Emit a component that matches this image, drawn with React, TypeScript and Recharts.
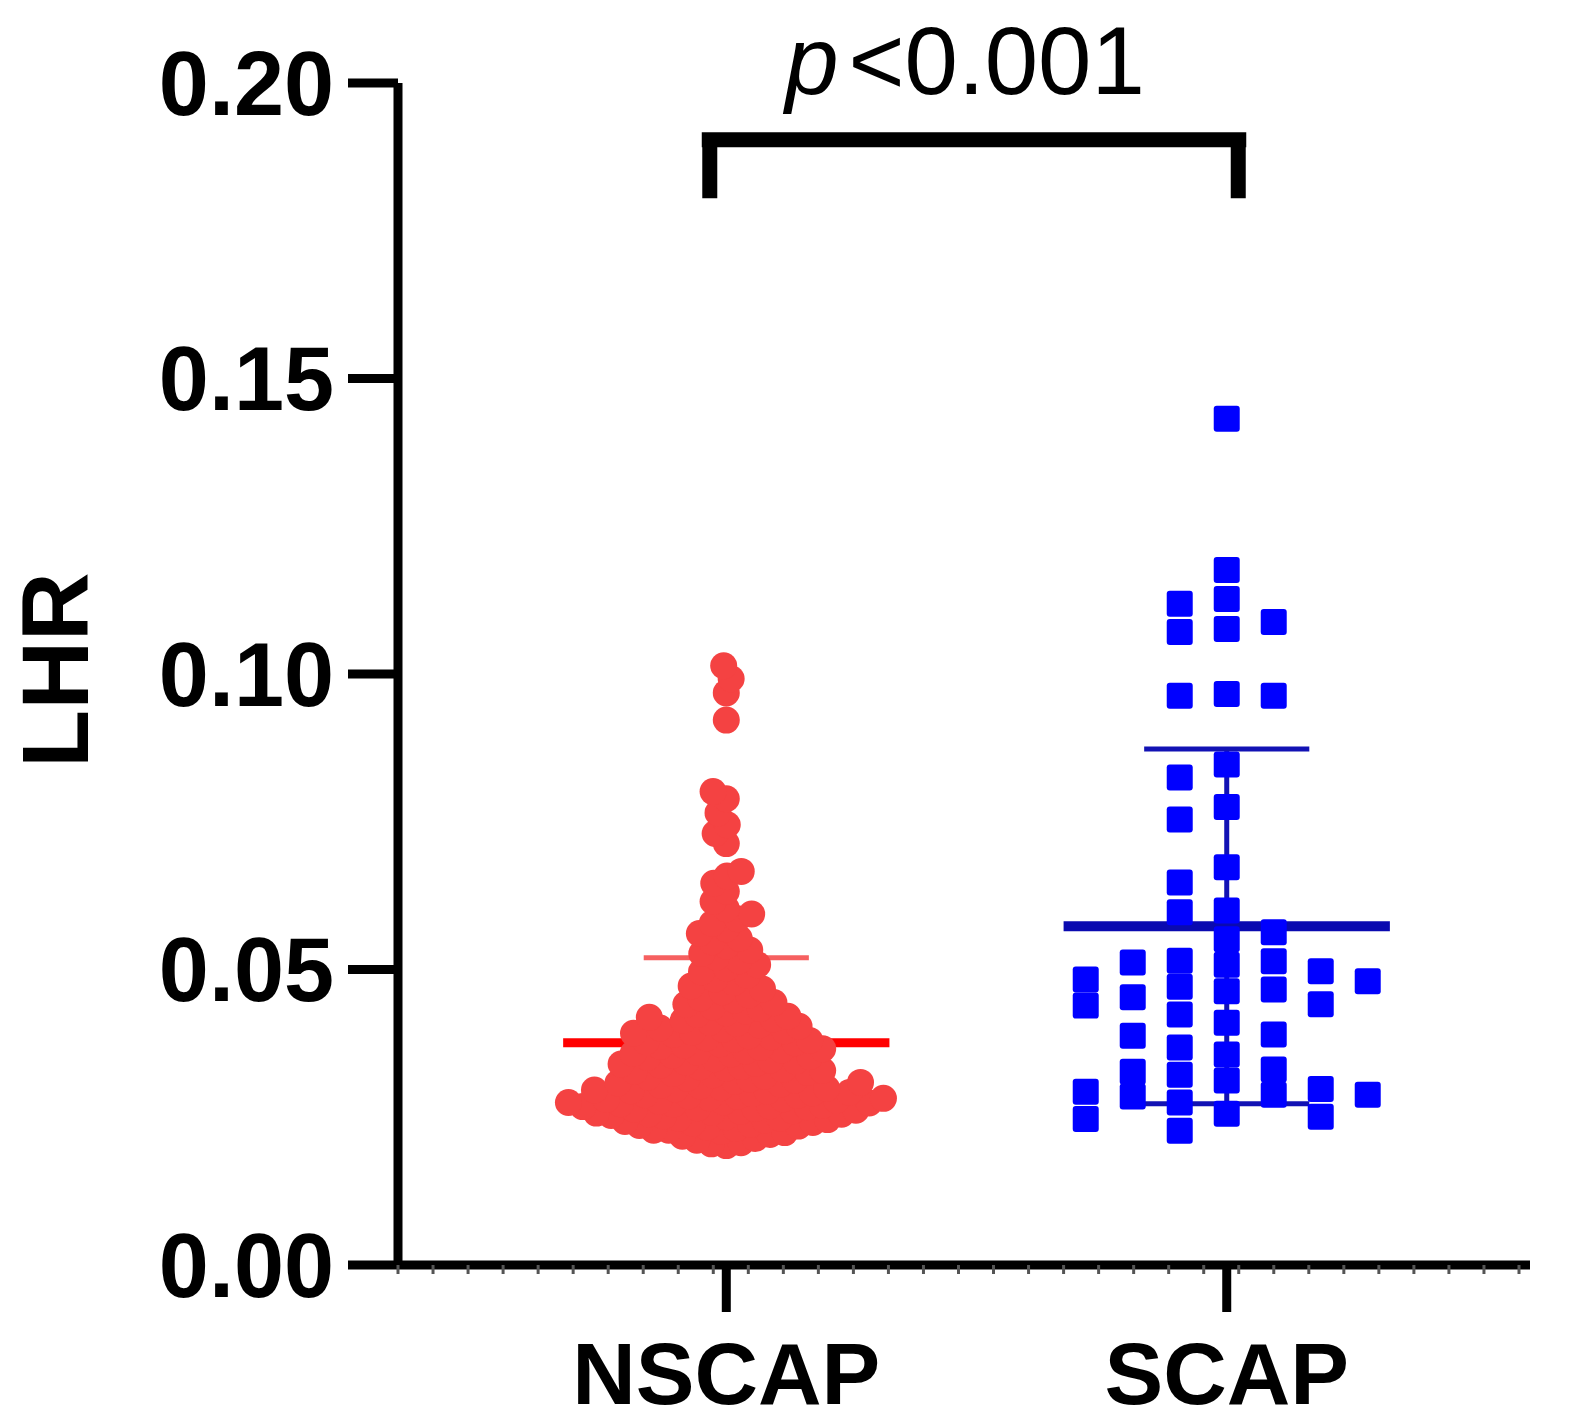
import { ScatterChart, Scatter, XAxis, YAxis, ReferenceLine } from 'recharts'

const GROUPS = ['NSCAP', 'SCAP']
const Y_TICKS = [0, 0.05, 0.1, 0.15, 0.2]

// LHR values (NSCAP is a dense swarm, so these are estimates)
const NSCAP = [
  0.0202, 0.0205, 0.0207, 0.0211, 0.0214, 0.0218, 0.0221, 0.0224,
  0.0226, 0.0228, 0.0228, 0.0231, 0.0233, 0.0235, 0.0236, 0.0238, 0.0240, 0.0241, 0.0243, 0.0245, 0.0246, 0.0248, 0.0249,
  0.0251, 0.0252, 0.0253, 0.0255, 0.0256, 0.0257, 0.0258, 0.0260, 0.0261, 0.0262, 0.0263, 0.0265, 0.0266, 0.0267, 0.0268, 0.0269, 0.0270, 0.0272, 0.0273, 0.0274,
  0.0275, 0.0276, 0.0277, 0.0279, 0.0280, 0.0281, 0.0282, 0.0283, 0.0285, 0.0286, 0.0287, 0.0288, 0.0290, 0.0291, 0.0292, 0.0294, 0.0295, 0.0296, 0.0298, 0.0299,
  0.0301, 0.0303, 0.0304, 0.0306, 0.0308, 0.0309, 0.0311, 0.0313, 0.0315, 0.0316, 0.0318, 0.0320, 0.0322, 0.0324,
  0.0326, 0.0328, 0.0329, 0.0331, 0.0333, 0.0335, 0.0336, 0.0338, 0.0340, 0.0341, 0.0343, 0.0345, 0.0347, 0.0349,
  0.0351, 0.0353, 0.0355, 0.0357, 0.0358, 0.0360, 0.0362, 0.0364, 0.0366, 0.0368, 0.0370, 0.0372, 0.0374,
  0.0376, 0.0378, 0.0380, 0.0382, 0.0384, 0.0386, 0.0388, 0.0390, 0.0392, 0.0394, 0.0396, 0.0399,
  0.0401, 0.0404, 0.0406, 0.0409, 0.0411, 0.0414, 0.0416, 0.0419, 0.0421, 0.0424,
  0.0427, 0.0430, 0.0434, 0.0437, 0.0441, 0.0444, 0.0448,
  0.0452, 0.0457, 0.0462, 0.0467, 0.0472,
  0.0478, 0.0484, 0.0490, 0.0496,
  0.0502, 0.0508, 0.0515, 0.0521,
  0.0527, 0.0533, 0.0540, 0.0547,
  0.0553, 0.0561, 0.0569,
  0.0578, 0.0586, 0.0594,
  0.0603, 0.0615, 0.0632, 0.0646, 0.0658, 0.0666,
  0.0713, 0.0730, 0.0745, 0.0765, 0.0789, 0.0801,
  0.0922, 0.0968, 0.0992, 0.1014,
]

const SCAP = [
  0.1432, 0.1176, 0.1127, 0.1119, 0.1088, 0.1076, 0.1071, 0.0966, 0.0963, 0.0963,
  0.0847, 0.0825, 0.0775, 0.0754, 0.0673, 0.0647, 0.0600, 0.0597,
  0.0563, 0.0512, 0.0463, 0.0390, 0.0331, 0.0288, 0.0247,
  0.0480, 0.0312,
  0.0508, 0.0466, 0.0424, 0.0327, 0.0285,
  0.0497, 0.0453, 0.0410, 0.0356, 0.0293, 0.0251,
  0.0514, 0.0439, 0.0388, 0.0298, 0.0256,
  0.0551, 0.0483, 0.0441, 0.0368, 0.0288, 0.0227,
  0.0515, 0.0471, 0.0322, 0.0275,
]

// mean and SD bars as drawn
const NSCAP_MEAN = 0.0376
const NSCAP_SD = 0.0144
const SCAP_MEAN = 0.0573
const SCAP_SD = 0.03

const P_TEXT = '<0.001'

const W = 1575
const H = 1425
const MARGIN = { top: 83, right: 45, bottom: 20, left: 0 }
const Y_AXIS_W = 398
const X_AXIS_H = 140
const PLOT_W = W - MARGIN.left - MARGIN.right - Y_AXIS_W
const PLOT_H = H - MARGIN.top - MARGIN.bottom - X_AXIS_H
const X_DOMAIN: [number, number] = [0.344, 2.606]
const Y_MAX = 0.2
const PX_X = PLOT_W / (X_DOMAIN[1] - X_DOMAIN[0])
const PX_Y = PLOT_H / Y_MAX

const FONT = '"Liberation Sans", Arial, sans-serif'
const MAJOR_TICKS = [1, 2]
const MINOR_TICKS = Array.from({ length: 33 }, (_, k) => X_DOMAIN[0] + k * 0.07)
const X_TICKS = [...MINOR_TICKS, ...MAJOR_TICKS].sort((a, b) => a - b)

const MEAN_HALF = 0.326
const CAP_HALF = 0.165

const BRACKET = { left: 0.951, right: 2.039, legL: 0.967, legR: 2.023, top: 0.1904, legTop: 0.1915, legBottom: 0.1805 }

// beeswarm for circles: closest free spot to the centre line
function swarmCircles(values: number[], center: number, d: number) {
  const placed: { x: number; y: number }[] = []
  const sorted = [...values].sort((a, b) => a - b)
  return sorted.map((v, i) => {
    const y = v * PX_Y
    const blocked = placed
      .filter((p) => Math.abs(p.y - y) < d)
      .map((p) => {
        const w = Math.sqrt(d * d - (p.y - y) ** 2)
        return [p.x - w, p.x + w]
      })
    const cands = [0, ...blocked.flat()].sort(
      (a, b) => Math.abs(a) - Math.abs(b) || (i % 2 ? a - b : b - a)
    )
    const x = cands.find((c) => blocked.every(([lo, hi]) => c <= lo + 1e-6 || c >= hi - 1e-6)) ?? 0
    placed.push({ x, y })
    return { x: center + x / PX_X, y: v }
  })
}

// squares go into lanes: first lane with room, otherwise the roomiest one
function swarmLanes(values: number[], center: number, lanePx: number, gapPx: number) {
  const placed: { lane: number; y: number }[] = []
  const order = [0, -1, 1, -2, 2, -3, 3]
  const sorted = [...values].sort((a, b) => b - a)
  return sorted.map((v) => {
    const y = v * PX_Y
    const room = (l: number) =>
      Math.min(Infinity, ...placed.filter((p) => p.lane === l).map((p) => Math.abs(p.y - y)))
    let lane = order.find((l) => room(l) >= gapPx)
    if (lane === undefined) lane = order.reduce((best, l) => (room(l) > room(best) ? l : best), 0)
    placed.push({ lane, y })
    return { x: center + (lane * lanePx) / PX_X, y: v }
  })
}

const nscapPoints = swarmCircles(NSCAP, 1, 15)
const scapPoints = swarmLanes(SCAP, 2, 47, 25)

const Circle = (p: any) => <circle cx={p.cx} cy={p.cy} r={13.5} fill="#F44242" />
const Square = (p: any) => <rect x={p.cx - 13} y={p.cy - 13} width={26} height={26} rx={3} fill="#0000FF" />

const tickStyle = { fontFamily: FONT, fontSize: 90, fontWeight: 700, fill: '#000' }

// long ticks with labels at the groups, short stubs elsewhere
const XTick = (props: any) => {
  const { x, y, payload } = props
  const major = MAJOR_TICKS.includes(payload.value)
  if (!major) return <line x1={x} x2={x} y1={y} y2={y + 9} stroke="#555" strokeWidth={3} />
  return (
    <g>
      <line x1={x} x2={x} y1={y} y2={y + 47} stroke="#000" strokeWidth={9} />
      <text x={x} y={y + 139} textAnchor="middle" {...tickStyle} fontSize={88}>
        {GROUPS[payload.value - 1]}
      </text>
    </g>
  )
}

export default function App() {
  return (
    <div style={{ marginLeft: -8, marginTop: -8, width: W, height: H }}>
      <ScatterChart width={W} height={H} margin={MARGIN}>
        <XAxis
          type="number"
          dataKey="x"
          domain={X_DOMAIN}
          ticks={X_TICKS}
          height={X_AXIS_H}
          tick={XTick}
          tickSize={0}
          tickMargin={0}
          tickLine={false}
          axisLine={{ stroke: '#000', strokeWidth: 9 }}
          allowDataOverflow
          interval={0}
        />
        <YAxis
          type="number"
          dataKey="y"
          domain={[0, Y_MAX]}
          ticks={Y_TICKS}
          tickFormatter={(v) => v.toFixed(2)}
          width={Y_AXIS_W}
          tick={tickStyle}
          tickSize={50}
          tickMargin={14}
          axisLine={{ stroke: '#000', strokeWidth: 9 }}
          tickLine={{ stroke: '#000', strokeWidth: 9 }}
          interval={0}
          label={{
            content: ({ viewBox }: any) => {
              const x = viewBox.x + 88
              const y = viewBox.y + viewBox.height / 2 - 4
              return (
                <text
                  x={x}
                  y={y}
                  transform={`rotate(-90 ${x} ${y})`}
                  textAnchor="middle"
                  fontFamily={FONT}
                  fontSize={95}
                  fontWeight={700}
                  fill="#000"
                >
                  LHR
                </text>
              )
            },
          }}
        />

        <ReferenceLine
          segment={[{ x: 1 - MEAN_HALF, y: NSCAP_MEAN }, { x: 1 + MEAN_HALF, y: NSCAP_MEAN }]}
          stroke="#FF0000"
          strokeWidth={9}
        />
        <ReferenceLine
          segment={[{ x: 1 - CAP_HALF, y: NSCAP_MEAN + NSCAP_SD }, { x: 1 + CAP_HALF, y: NSCAP_MEAN + NSCAP_SD }]}
          stroke="#F66060"
          strokeWidth={5}
        />

        <Scatter data={nscapPoints} shape={Circle} isAnimationActive={false} />
        <Scatter data={scapPoints} shape={Square} isAnimationActive={false} />

        <ReferenceLine
          segment={[{ x: 2, y: SCAP_MEAN - SCAP_SD }, { x: 2, y: SCAP_MEAN + SCAP_SD }]}
          stroke="#1212B4"
          strokeWidth={5}
        />
        <ReferenceLine
          segment={[{ x: 2 - CAP_HALF, y: SCAP_MEAN + SCAP_SD }, { x: 2 + CAP_HALF, y: SCAP_MEAN + SCAP_SD }]}
          stroke="#1212B4"
          strokeWidth={5}
        />
        <ReferenceLine
          segment={[{ x: 2 - CAP_HALF, y: SCAP_MEAN - SCAP_SD }, { x: 2 + CAP_HALF, y: SCAP_MEAN - SCAP_SD }]}
          stroke="#1212B4"
          strokeWidth={5}
        />
        <ReferenceLine
          segment={[{ x: 2 - MEAN_HALF, y: SCAP_MEAN }, { x: 2 + MEAN_HALF, y: SCAP_MEAN }]}
          stroke="#0A0AB0"
          strokeWidth={10}
        />

        <ReferenceLine
          segment={[{ x: BRACKET.left, y: BRACKET.top }, { x: BRACKET.right, y: BRACKET.top }]}
          stroke="#000"
          strokeWidth={15}
          label={{
            content: ({ viewBox }: any) => (
              <text
                x={viewBox.x + viewBox.width / 2 - 9}
                y={viewBox.y - 46}
                textAnchor="middle"
                fontFamily={FONT}
                fontSize={96}
                fill="#000"
              >
                <tspan fontStyle="italic">p</tspan>
                <tspan dx={10}>{P_TEXT}</tspan>
              </text>
            ),
          }}
        />
        <ReferenceLine
          segment={[{ x: BRACKET.legL, y: BRACKET.legTop }, { x: BRACKET.legL, y: BRACKET.legBottom }]}
          stroke="#000"
          strokeWidth={15}
        />
        <ReferenceLine
          segment={[{ x: BRACKET.legR, y: BRACKET.legTop }, { x: BRACKET.legR, y: BRACKET.legBottom }]}
          stroke="#000"
          strokeWidth={15}
        />
      </ScatterChart>
    </div>
  )
}
